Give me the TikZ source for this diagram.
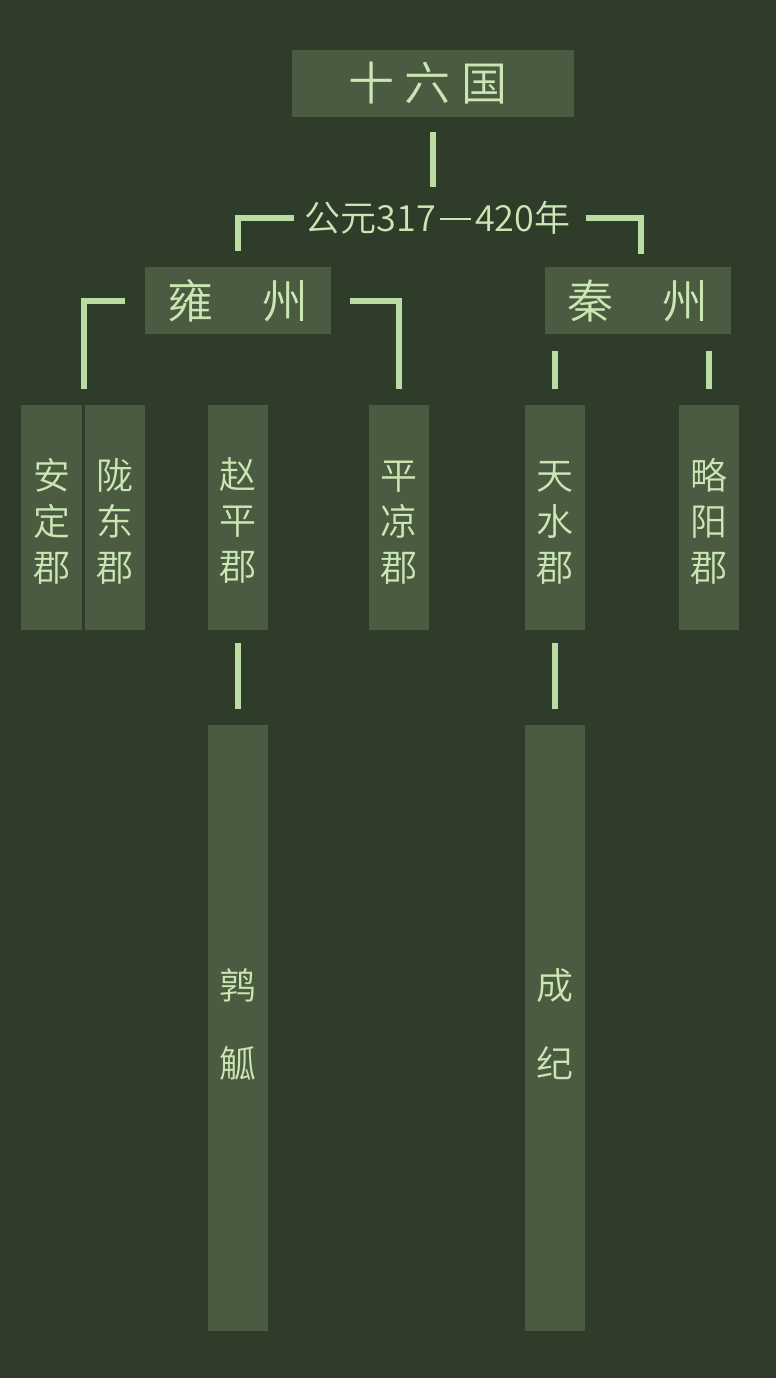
\documentclass[tikz,border=0pt]{standalone}
\usepackage{fontspec}
\setmainfont{Noto Sans CJK SC DemiLight}
\definecolor{bgc}{HTML}{303C2A}
\definecolor{boxc}{HTML}{4A5B41}
\definecolor{txtc}{HTML}{C9E7B3}
\definecolor{linec}{HTML}{B9DDA2}
\begin{document}
\begin{tikzpicture}[x=1pt,y=-1pt,
  boxbase/.style={rectangle, fill=boxc, inner sep=0pt, text=txtc, align=center},
  headbox/.style={boxbase, minimum width=186pt, minimum height=67pt, font=\fontsize{46}{50}\selectfont},
  colbox/.style={boxbase, minimum width=60pt, minimum height=225pt, font=\fontsize{37}{46}\selectfont},
  longbox/.style={boxbase, minimum width=60pt, minimum height=606pt, font=\fontsize{37}{78}\selectfont},
  conn/.style={draw=linec, line width=6pt, line cap=butt, line join=miter}]
\fill[bgc] (0,0) rectangle (776,1378);
\useasboundingbox (0,0) rectangle (776,1378);

\node[headbox, minimum width=282pt] (top) at (433,83.5) {十\hspace{11pt}六\hspace{11pt}国\hspace{10pt}};
\node[text=txtc, inner sep=0pt, font=\fontsize{36}{40}\selectfont] (date) at (437.5,218) {公元317\hspace{4pt}\rule[12pt]{31pt}{2.2pt}\hspace{4pt}420年};
\node[headbox] (yong) at (238,300.5) {雍\hspace{50pt}州};
\node[headbox] (qin) at (638,300.5) {秦\hspace{50pt}州};

\node[colbox, minimum width=61pt] (anding) at (51.5,517.5) {\rule{0pt}{39pt}安\\定\\郡};
\node[colbox] (longdong) at (115,517.5) {\rule{0pt}{39pt}陇\\东\\郡};
\node[colbox] (zhaoping) at (238,517.5) {\rule{0pt}{37pt}赵\\平\\郡};
\node[colbox] (pingliang) at (398.5,517.5) {\rule{0pt}{39pt}平\\凉\\郡};
\node[colbox] (tianshui) at (554.5,517.5) {\rule{0pt}{39pt}天\\水\\郡};
\node[colbox] (lueyang) at (708.5,517.5) {\rule{0pt}{39pt}略\\阳\\郡};

\node[longbox] (chunhu) at (238,1028) {鹑\\觚\rule[-10pt]{0pt}{10pt}};
\node[longbox] (chengji) at (554.5,1028) {成\\纪\rule[-10pt]{0pt}{10pt}};

\coordinate (split) at (83.5,405);

\draw[conn, shorten <=15pt, shorten >=14pt] (top.south) -- (top.south |- date.north);
\draw[conn, shorten <=11pt, shorten >=16pt] (date.west) -| (yong.north);
\draw[conn, shorten <=15pt, shorten >=13pt] (date.east) -| ([xshift=3pt]qin.north);
\draw[conn, shorten <=20pt, shorten >=16pt] (yong.west) -| (split);
\draw[conn, shorten <=19pt, shorten >=16pt] (yong.east) -| (pingliang.north);
\draw[conn, shorten <=17pt, shorten >=16pt] (qin.south -| tianshui.north) -- (tianshui.north);
\draw[conn, shorten <=17pt, shorten >=16pt] (qin.south -| lueyang.north) -- (lueyang.north);
\draw[conn, shorten <=13pt, shorten >=16pt] (zhaoping.south) -- (chunhu.north);
\draw[conn, shorten <=13pt, shorten >=16pt] (tianshui.south) -- (chengji.north);
\end{tikzpicture}
\end{document}
